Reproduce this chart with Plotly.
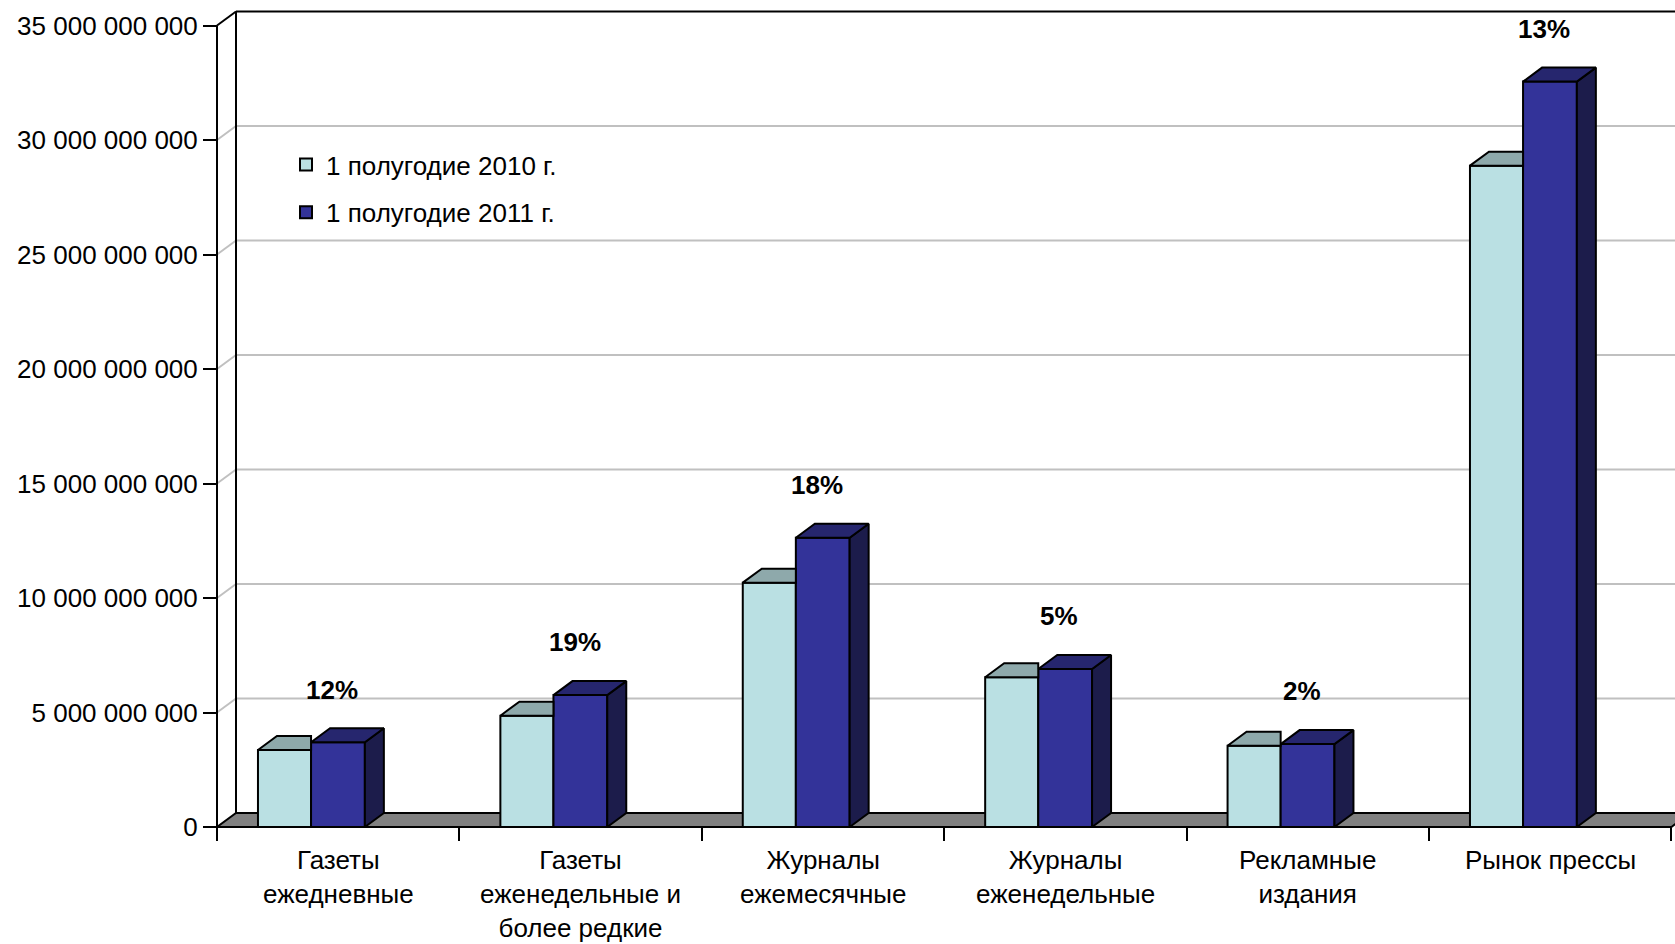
import plotly.graph_objects as go

# ---------------- data ----------------
categories = [
    "Газеты<br>ежедневные",
    "Газеты<br>еженедельные и<br>более редкие",
    "Журналы<br>ежемесячные",
    "Журналы<br>еженедельные",
    "Рекламные<br>издания",
    "Рынок прессы",
]
series_names = ["1 полугодие 2010 г.", "1 полугодие 2011 г."]
h1_2010 = [3.36e9, 4.86e9, 10.67e9, 6.54e9, 3.55e9, 28.88e9]
h1_2011 = [3.70e9, 5.76e9, 12.63e9, 6.90e9, 3.62e9, 32.55e9]
growth_labels = ["12%", "19%", "18%", "5%", "2%", "13%"]
y_ticks = [0, 5e9, 10e9, 15e9, 20e9, 25e9, 30e9, 35e9]

# ---------------- layout geometry ----------------
W, H = 1675, 944
X0_PX = 217          # pixel of category boundary -0.5 (front plane)
CAT_PX = 242.4       # pixels per category
Y0_PX = 827          # pixel of value 0 (front plane)
PX_PER_UNIT = 114.5 / 5e9
PAD_L, PAD_B, M_T = 5, 4, 8

m_l = X0_PX - PAD_L
m_b = H - (Y0_PX + PAD_B)
plot_w = W - m_l
plot_h = H - M_T - m_b
x_range = [-0.5 - PAD_L / CAT_PX, -0.5 + (W - X0_PX) / CAT_PX]
y_range = [-PAD_B / PX_PER_UNIT, (Y0_PX - M_T) / PX_PER_UNIT]

DX = 19 / CAT_PX            # depth offset (x units)
DY = 14 / PX_PER_UNIT       # depth offset (y units)

n = len(categories)
xpos = list(range(n))
LIGHT_OFF, LIGHT_W = -0.331, 0.219
DARK_OFF, DARK_W = -0.112, 0.222

C_LIGHT, C_LIGHT_TOP = "#BAE0E3", "#8EA9AB"
C_DARK, C_DARK_TOP, C_DARK_SIDE = "#333399", "#26266E", "#1C1C4B"
FONT = "Liberation Sans, Arial, sans-serif"
FS = 26

fig = go.Figure()

# front faces
fig.add_trace(go.Bar(x=xpos, y=h1_2010, base=0, width=LIGHT_W, offset=LIGHT_OFF,
                     name=series_names[0], legendgroup="a",
                     marker=dict(color=C_LIGHT, line=dict(color="black", width=2)),
                     hoverinfo="skip"))
fig.add_trace(go.Bar(x=xpos, y=h1_2011, base=0, width=DARK_W, offset=DARK_OFF,
                     name=series_names[1], legendgroup="b",
                     marker=dict(color=C_DARK, line=dict(color="black", width=2)),
                     hoverinfo="skip"))


def poly_trace(xs, ys, color):
    return go.Scatter(x=xs, y=ys, mode="lines", fill="toself", fillcolor=color,
                      line=dict(color="black", width=2), showlegend=False,
                      hoverinfo="skip")


# light tops (right part hidden by taller dark bar)
lx, ly = [], []
for i, v in zip(xpos, h1_2010):
    x0 = i + LIGHT_OFF
    x1 = x0 + LIGHT_W
    lx += [x0, x1, x1, x0 + DX, x0, None]
    ly += [v, v, v + DY, v + DY, v, None]
fig.add_trace(poly_trace(lx, ly, C_LIGHT_TOP))

# dark tops and sides
tx, ty, sx, sy = [], [], [], []
for i, v in zip(xpos, h1_2011):
    x0 = i + DARK_OFF
    x1 = x0 + DARK_W
    tx += [x0, x1, x1 + DX, x0 + DX, x0, None]
    ty += [v, v, v + DY, v + DY, v, None]
    sx += [x1, x1 + DX, x1 + DX, x1, x1, None]
    sy += [0, DY, v + DY, v, 0, None]
fig.add_trace(poly_trace(sx, sy, C_DARK_SIDE))
fig.add_trace(poly_trace(tx, ty, C_DARK_TOP))

# ---------------- walls / floor as shapes below traces ----------------
shapes = []
xl = -0.5
xr_end = x_range[1] + 1
for v in y_ticks[1:-1]:
    shapes.append(dict(type="line", xref="x", yref="y", layer="below",
                       x0=xl + DX, y0=v + DY, x1=xr_end, y1=v + DY,
                       line=dict(color="#C0C0C0", width=2)))
    shapes.append(dict(type="line", xref="x", yref="y", layer="below",
                       x0=xl, y0=v, x1=xl + DX, y1=v + DY,
                       line=dict(color="#C0C0C0", width=2)))
top = y_ticks[-1]
shapes.append(dict(type="line", xref="x", yref="y", layer="below",
                   x0=xl + DX, y0=top + DY, x1=xr_end, y1=top + DY,
                   line=dict(color="black", width=2)))
shapes.append(dict(type="line", xref="x", yref="y", layer="below",
                   x0=xl, y0=top, x1=xl + DX, y1=top + DY,
                   line=dict(color="black", width=2)))
shapes.append(dict(type="line", xref="x", yref="y", layer="below",
                   x0=xl + DX, y0=DY, x1=xl + DX, y1=top + DY,
                   line=dict(color="black", width=2)))
xe = n - 0.5
shapes.append(dict(type="path", xref="x", yref="y", layer="below",
                   path=f"M {xl},0 L {xe},0 L {xe + DX},{DY} L {xl + DX},{DY} Z",
                   fillcolor="#808080", line=dict(color="black", width=2)))
shapes.append(dict(type="line", xref="x", yref="y", layer="below",
                   x0=xl, y0=0, x1=xl, y1=top,
                   line=dict(color="black", width=2)))

# ---------------- annotations ----------------
annotations = []
zero_paper = PAD_B / plot_h
for i, lab in zip(xpos, categories):
    annotations.append(dict(x=i, xref="x", y=zero_paper, yref="paper",
                            yanchor="top", xanchor="center", yshift=-16,
                            text=lab, showarrow=False, align="center",
                            font=dict(family=FONT, size=FS, color="black")))
for i, v, lab in zip(xpos, h1_2011, growth_labels):
    annotations.append(dict(x=i - 0.025, xref="x", y=v + 2.3e9, yref="y",
                            text=f"<b>{lab}</b>", showarrow=False,
                            font=dict(family=FONT, size=FS, color="black")))

fig.update_layout(
    width=W, height=H,
    margin=dict(l=m_l, r=0, t=M_T, b=m_b, pad=0),
    paper_bgcolor="white", plot_bgcolor="white",
    separators=". ",
    barmode="overlay",
    showlegend=True,
    legend=dict(x=(286 - m_l) / plot_w, y=1 - (141 - M_T) / plot_h,
                xanchor="left", yanchor="top", bgcolor="rgba(0,0,0,0)",
                traceorder="grouped", tracegroupgap=11,
                font=dict(family=FONT, size=FS, color="black")),
    xaxis=dict(range=x_range, anchor="free", position=zero_paper,
               tickmode="array", tickvals=[k - 0.5 for k in range(n + 1)],
               showticklabels=False, ticks="outside", ticklen=13, tickwidth=2,
               tickcolor="black", showgrid=False, zeroline=False, showline=False,
               fixedrange=True),
    yaxis=dict(range=y_range, anchor="free", position=PAD_L / plot_w,
               tickmode="array", tickvals=y_ticks, tickformat=",",
               ticks="outside", ticklen=14, tickwidth=2, tickcolor="black",
               tickfont=dict(family=FONT, size=FS, color="black"),
               showgrid=False, zeroline=False, showline=False, fixedrange=True),
    shapes=shapes,
    annotations=annotations,
)

fig.write_html("out.html")
